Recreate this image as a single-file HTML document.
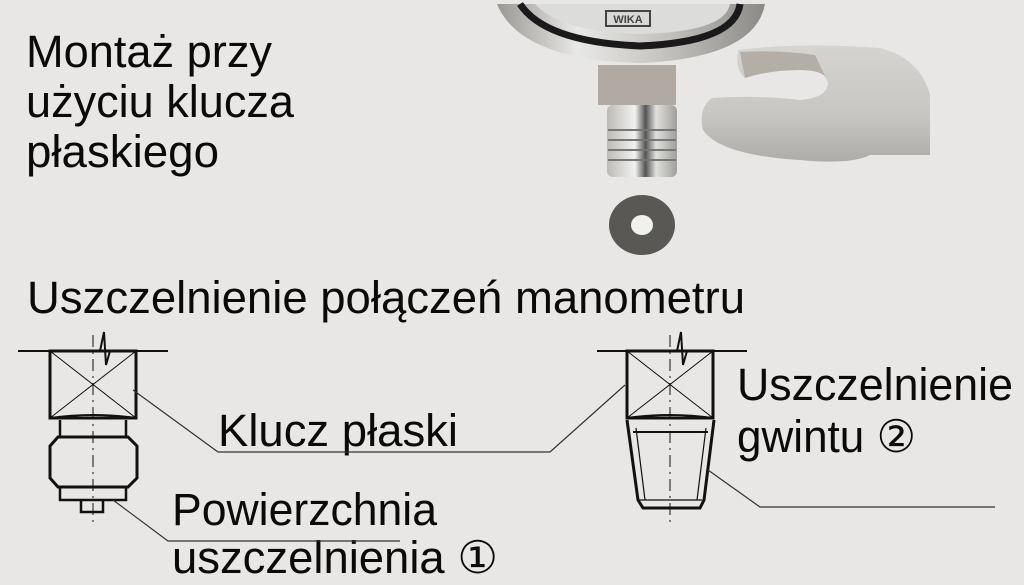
<!DOCTYPE html>
<html><head><meta charset="utf-8"><style>
html,body{margin:0;padding:0;background:#e8e7e5;}
svg{display:block}
text{font-family:"Liberation Sans","DejaVu Sans",sans-serif;fill:#0a0a0a;font-size:45px}
</style></head><body>
<svg width="1024" height="585" viewBox="0 0 1024 585" xmlns="http://www.w3.org/2000/svg">
<defs>
<linearGradient id="met" x1="0" x2="1"><stop offset="0" stop-color="#9a9894"/><stop offset="0.3" stop-color="#e8e8e6"/><stop offset="0.6" stop-color="#c8c6c2"/><stop offset="1" stop-color="#8c8a86"/></linearGradient>
<linearGradient id="thr" x1="0" x2="1"><stop offset="0" stop-color="#bcbab6"/><stop offset="0.4" stop-color="#f2f2f0"/><stop offset="0.55" stop-color="#555"/><stop offset="0.7" stop-color="#e0e0de"/><stop offset="1" stop-color="#a09e9a"/></linearGradient>
<linearGradient id="wr" x1="0" y1="0" x2="0" y2="1"><stop offset="0" stop-color="#d6d4d0"/><stop offset="0.6" stop-color="#c8c6c2"/><stop offset="1" stop-color="#aeaca8"/></linearGradient>
</defs>
<rect width="1024" height="585" fill="#e8e7e5"/>
<!-- photo: gauge -->
<path d="M497 4 Q520 60 640 63 Q755 58 765 4 Z" fill="url(#met)"/>
<path d="M520 4 Q545 42 640 46 Q735 42 740 4" fill="none" stroke="#1a1a1a" stroke-width="7"/>
<path d="M535 4 Q560 32 640 34 Q725 32 730 4 Z" fill="#dcdcda"/>
<rect x="606" y="11" width="44" height="15" fill="#d8d8d6" stroke="#444" stroke-width="2"/>
<text x="628" y="23" text-anchor="middle" style="font-size:11px;fill:#444;font-weight:bold">WIKA</text>
<rect x="598" y="65" width="78" height="40" fill="#b0aaa2"/>
<rect x="607" y="105" width="70" height="72" fill="url(#thr)" rx="6"/>
<g stroke="#777" stroke-width="2"><line x1="608" y1="130" x2="676" y2="130"/><line x1="608" y1="140" x2="676" y2="140"/><line x1="608" y1="150" x2="676" y2="150"/><line x1="608" y1="160" x2="676" y2="160"/></g>
<ellipse cx="642" cy="225" rx="33" ry="30" fill="#5a5854"/>
<ellipse cx="642" cy="225" rx="11" ry="10" fill="#f0f0ee"/>
<!-- wrench -->
<path d="M738 50 Q800 42 880 48 Q920 58 930 95 V155 L870 155 Q850 165 800 160 Q720 155 703 130 Q698 108 712 98 Q760 95 800 100 Q828 98 828 82 Q826 70 800 70 Q770 70 745 78 Q735 70 738 50 Z" fill="url(#wr)"/>
<path d="M740 52 Q780 50 815 55 L828 82 Q826 70 800 70 Q770 70 745 78 Z" fill="#b4aea6"/>
<!-- titles -->
<text x="26" y="67" textLength="246" lengthAdjust="spacingAndGlyphs">Montaż przy</text>
<text x="26" y="117" textLength="268" lengthAdjust="spacingAndGlyphs">użyciu klucza</text>
<text x="26" y="167" textLength="193" lengthAdjust="spacingAndGlyphs">płaskiego</text>
<text x="27" y="313" textLength="718" lengthAdjust="spacingAndGlyphs">Uszczelnienie połączeń manometru</text>
<text x="218" y="446" textLength="240" lengthAdjust="spacingAndGlyphs">Klucz płaski</text>
<text x="172" y="525" textLength="265" lengthAdjust="spacingAndGlyphs">Powierzchnia</text>
<text x="172" y="573" textLength="326" lengthAdjust="spacingAndGlyphs">uszczelnienia ①</text>
<text x="737" y="400" textLength="276" lengthAdjust="spacingAndGlyphs">Uszczelnienie</text>
<text x="737" y="452" textLength="179" lengthAdjust="spacingAndGlyphs">gwintu ②</text>
<!-- left fitting -->
<g fill="none" stroke="#111">
<line x1="18" y1="351" x2="168" y2="351" stroke-width="2"/>
<rect x="50" y="351" width="86" height="67" stroke-width="3"/>
<line x1="50" y1="351" x2="136" y2="418" stroke-width="1"/>
<line x1="136" y1="351" x2="50" y2="418" stroke-width="1"/>
<path d="M50 418 Q93 412 136 418" stroke-width="2"/>
<path d="M60 420 V437 M126 420 V437" stroke-width="2.5"/>
<path d="M58 437 H128 L137 446 V478 L128 487 H58 L50 478 V446 Z" stroke-width="3"/>
<path d="M60 487 V500 H126 V487" stroke-width="2.5"/>
<path d="M81 500 V512 H103 V500" stroke-width="2.5"/>
<line x1="93" y1="335" x2="93" y2="525" stroke-width="1" stroke-dasharray="12,5,2,5"/>
<path d="M100 351 L104 332 L106 365 L110 351" stroke-width="2"/>
<path d="M133 390 L218 452 H550 L625 385" stroke-width="1.2" stroke="#333"/>
<path d="M113 500 L168 541 H400" stroke-width="1.2" stroke="#333"/>
</g>
<!-- right fitting -->
<g fill="none" stroke="#111">
<line x1="597" y1="351" x2="747" y2="351" stroke-width="2"/>
<rect x="627" y="351" width="86" height="67" stroke-width="3"/>
<line x1="627" y1="351" x2="713" y2="418" stroke-width="1"/>
<line x1="713" y1="351" x2="627" y2="418" stroke-width="1"/>
<path d="M627 418 Q670 412 713 418" stroke-width="2"/>
<path d="M627 420 L638 500 L643 508 H700 L704 500 L714 420" stroke-width="3"/>
<path d="M633 432 H708" stroke-width="2"/>
<path d="M636 428 L645 500 M706 428 L697 500 M639 500 H702" stroke-width="1.2"/>
<line x1="670" y1="335" x2="670" y2="525" stroke-width="1" stroke-dasharray="12,5,2,5"/>
<path d="M677 351 L681 332 L683 365 L687 351" stroke-width="2"/>
<path d="M708 470 L760 507 H995" stroke-width="1.2" stroke="#333"/>
</g>
</svg>
</body></html>
